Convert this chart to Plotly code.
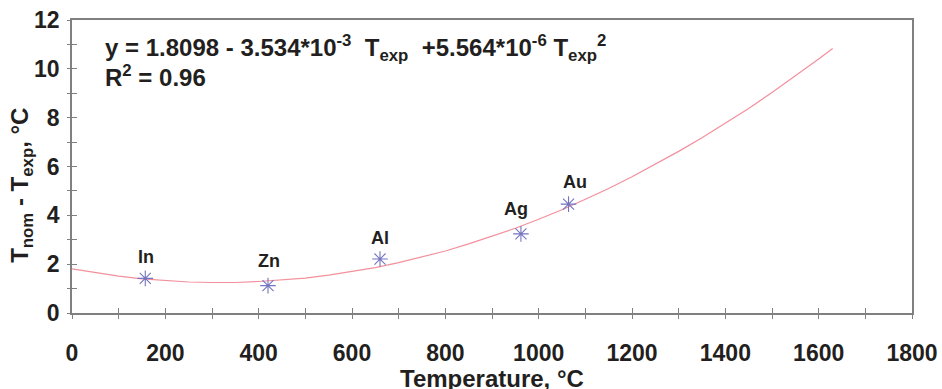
import plotly.graph_objects as go

# ---- data ----
metals = ["In", "Zn", "Al", "Ag", "Au"]
metal_T = [157, 420, 660, 962, 1064]
metal_dT = [1.42, 1.12, 2.21, 3.24, 4.46]

fit_T = [0, 50, 100, 150, 200, 250, 300, 350, 400, 450, 500, 550, 600, 650, 700,
         750, 800, 850, 900, 950, 1000, 1050, 1100, 1150, 1200, 1250, 1300, 1350,
         1400, 1450, 1500, 1550, 1600, 1630]
fit_dT = [1.81, 1.65, 1.51, 1.40, 1.33, 1.27, 1.25, 1.25, 1.29, 1.35, 1.43, 1.55,
          1.69, 1.86, 2.06, 2.29, 2.54, 2.83, 3.14, 3.47, 3.84, 4.23, 4.66, 5.10,
          5.58, 6.09, 6.62, 7.18, 7.77, 8.38, 9.03, 9.70, 10.40, 10.83]

x_major = [0, 200, 400, 600, 800, 1000, 1200, 1400, 1600, 1800]
y_major = [0, 2, 4, 6, 8, 10, 12]
x_minor = list(range(0, 1801, 100))
y_minor = list(range(0, 13))

# ---- styling ----
FONT = "Arial, Liberation Sans, sans-serif"
TXT = "#231f20"
AX = "#808080"
MK = "#7474c0"
label_dx = [1, 1, 0, -5, 6]
label_dy = [21, 25, 21, 25, 22]

fig = go.Figure()
fig.add_trace(go.Scatter(x=fit_T, y=fit_dT, mode="lines",
                         line=dict(color="#f2909c", width=1.2),
                         hoverinfo="skip", showlegend=False))
fig.add_trace(go.Scatter(x=metal_T, y=metal_dT, mode="markers",
                         marker=dict(symbol="asterisk-open", size=13, color=MK,
                                     line=dict(color=MK, width=1.1)),
                         showlegend=False))
# invisible traces on overlay axes (tick marks crossing the axis lines)
for xa, ya in (("x2", "y2"), ("x3", "y3")):
    fig.add_trace(go.Scatter(x=[0], y=[0], xaxis=xa, yaxis=ya, mode="markers",
                             marker=dict(opacity=0), hoverinfo="skip", showlegend=False))

ts = dict(tickcolor=AX, tickwidth=1.2, showticklabels=False, showgrid=False,
          zeroline=False, showline=False, automargin=False)
fig.update_layout(
    width=942, height=389,
    margin=dict(l=72, r=30, t=20, b=76, autoexpand=False),
    paper_bgcolor="white", plot_bgcolor="white",
    font=dict(family=FONT, color=TXT),
    xaxis=dict(range=[0, 1800], tickmode="array", tickvals=x_major,
               ticktext=[f"<b>{v}</b>" for v in x_major], automargin=False,
               ticks="", showline=True, linecolor=AX, linewidth=1.5, mirror=True,
               showgrid=False, zeroline=False,
               tickfont=dict(size=23, color=TXT), ticklabelstandoff=19),
    yaxis=dict(range=[0, 12], tickmode="array", tickvals=y_major,
               ticktext=[f"<b>{v}</b>" for v in y_major], automargin=False,
               ticks="", showline=True, linecolor=AX, linewidth=1.5, mirror=True,
               showgrid=False, zeroline=False, ticklabelstandoff=6,
               tickfont=dict(size=23, color=TXT)),
    xaxis2=dict(range=[0, 1800], overlaying="x", anchor="y", tickmode="array",
                tickvals=x_minor, ticks="inside", ticklen=5, **ts),
    yaxis2=dict(range=[0, 12], overlaying="y", anchor="x", tickmode="array",
                tickvals=y_minor, ticks="inside", ticklen=5, **ts),
    xaxis3=dict(range=[0, 1800], overlaying="x", anchor="y", tickmode="array",
                tickvals=x_minor, ticks="outside", ticklen=5, **ts),
    yaxis3=dict(range=[0, 12], overlaying="y", anchor="x", tickmode="array",
                tickvals=y_minor, ticks="outside", ticklen=4, **ts),
)

for name, t, v, dx, dy in zip(metals, metal_T, metal_dT, label_dx, label_dy):
    fig.add_annotation(x=t, y=v, text=f"<b>{name}</b>", showarrow=False,
                       xshift=dx, yshift=dy, font=dict(size=18, color=TXT))

fig.add_annotation(xref="paper", yref="paper", x=0.037, y=0.905,
                   xanchor="left", yanchor="middle", showarrow=False,
                   text="<b>y = 1.8098 - 3.534*10<sup>-3</sup>  T<sub>exp</sub>  +5.564*10<sup>-6</sup> T<sub>exp</sub><sup>2</sup></b>",
                   font=dict(size=24, color=TXT))
fig.add_annotation(xref="paper", yref="paper", x=0.037, y=0.81,
                   xanchor="left", yanchor="middle", showarrow=False,
                   text="<b>R<sup>2</sup> = 0.96</b>",
                   font=dict(size=24, color=TXT))
fig.add_annotation(xref="paper", yref="paper", x=-0.06, y=0.436,
                   xanchor="center", yanchor="middle", showarrow=False, textangle=-90,
                   text="<b>T<sub>nom</sub> - T<sub>exp</sub>, °C</b>",
                   font=dict(size=24, color=TXT))
fig.add_annotation(xref="paper", yref="paper", x=0.5, y=-0.222,
                   xanchor="center", yanchor="middle", showarrow=False,
                   text="<b>Temperature, °C</b>",
                   font=dict(size=24, color=TXT))

fig.write_html("out.html", config={"displayModeBar": False},
               post_script="document.body.style.margin='0';document.body.style.overflow='hidden';")
